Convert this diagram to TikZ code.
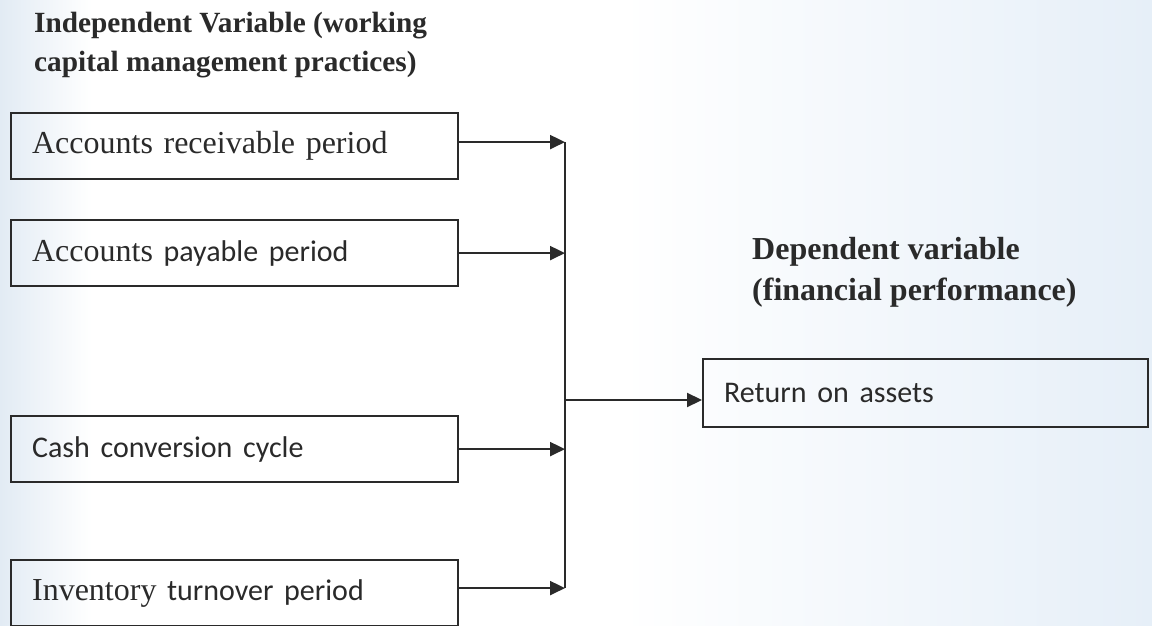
\documentclass[tikz,border=0pt]{standalone}
\usepackage{fontspec}
\setmainfont{Liberation Serif}
\newfontfamily\calib{Carlito}
\newcommand\sanspart[1]{{\calib\fontsize{30}{36}\selectfont #1}}
\usetikzlibrary{arrows.meta}
\definecolor{ink}{HTML}{2A2A2A}
\definecolor{bgleft}{HTML}{E2EBF4}
\definecolor{bgright}{HTML}{E6EFF8}
\pgfdeclarehorizontalshading{pagebg}{100bp}{color(0bp)=(bgleft); color(25bp)=(bgleft); color(29bp)=(white); color(52bp)=(white); color(75bp)=(bgright); color(100bp)=(bgright)}
\begin{document}
\begin{tikzpicture}[x=1pt,y=-1pt,
  box/.style={draw=ink, line width=2.2pt, rectangle, minimum width=447pt, minimum height=66pt,
    anchor=north west, inner xsep=21pt, text width=405pt, align=left,
    font=\fontsize{32}{38}\selectfont, text=ink},
  arr/.style={draw=ink, line width=2.2pt, -{Triangle[length=15pt,width=14pt]}},
  bus/.style={draw=ink, line width=2.2pt},
  ttl/.style={anchor=base west, inner sep=0pt, text=ink}]
  \useasboundingbox (0,0) rectangle (1152,626);
  \shade[shading=pagebg] (0,0) rectangle (1152,626);

  \node[ttl, font=\bfseries\fontsize{29.3}{40}\selectfont] (t1a) at (34,33) {Independent Variable (working};
  \node[ttl, font=\bfseries\fontsize{29.3}{40}\selectfont] (t1b) at (34,72) {capital management practices)};
  \node[ttl, font=\bfseries\fontsize{32}{40}\selectfont] (t2a) at (752,259) {Dependent variable};
  \node[ttl, font=\bfseries\fontsize{32}{40}\selectfont] (t2b) at (752,300) {(financial performance)};

  \node[box] (b1) at (10,112) {Accounts receivable period};
  \node[box] (b2) at (10,219) {Accounts \sanspart{payable period}};
  \node[box] (b3) at (10,415) {\sanspart{Cash conversion cycle}};
  \node[box] (b4) at (10,559) {Inventory \sanspart{turnover period}};
  \node[box, minimum width=445pt, text width=403pt, minimum height=68pt] (roa) at (702,358) {\sanspart{Return on assets}};

  \coordinate (s1) at ([yshift=4pt]b1.east);
  \coordinate (s2) at (b2.east);
  \coordinate (s3) at (b3.east);
  \coordinate (s4) at ([yshift=5pt]b4.east);
  \coordinate (bt) at (s1 -| 565,0);
  \coordinate (bb) at (s4 -| 565,0);
  \coordinate (j) at (565,400);

  \draw[bus] (bt) -- (bb);
  \draw[arr] (s1) -- (s1 -| bt);
  \draw[arr] (s2) -- (s2 -| bt);
  \draw[arr] (s3) -- (s3 -| bt);
  \draw[arr] (s4) -- (s4 -| bt);
  \draw[arr] (j) -- (j -| roa.west);
\end{tikzpicture}
\end{document}
